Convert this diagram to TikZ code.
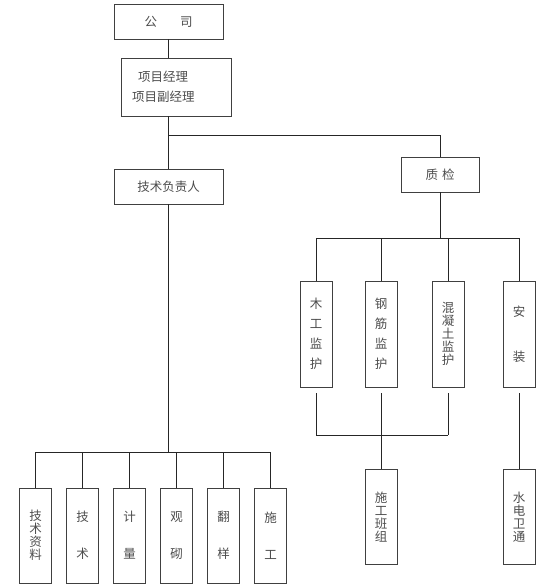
\documentclass[tikz,border=0pt]{standalone}
\usepackage{fontspec}
\newfontfamily\cjk{Noto Sans CJK SC}
\usetikzlibrary{positioning}

\begin{document}
\begin{tikzpicture}[
  x=1pt, y=-1pt,
  box/.style={draw=black!75, line width=0.9pt, inner sep=0pt, align=center,
              text=black!70, font=\cjk\fontsize{12.5}{13}\selectfont},
  hbox/.style={box, minimum width=109pt, minimum height=35pt},
  vbox/.style={box, minimum width=32pt, minimum height=95pt},
  tbox/.style={box, minimum width=32pt, minimum height=106pt},
  link/.style={draw=black!85, line width=0.7pt},
  gapline/.style={link, shorten <=6pt},
]
\useasboundingbox (0,0) rectangle (555,586);

% top of the tree
\node[hbox] (company) at (168.5, 21.5) {公\hspace{23pt}司};
\node[box, minimum width=110pt, minimum height=58pt, align=left, text width=88pt,
      font=\cjk\fontsize{12.5}{20}\selectfont] (manager) at (176, 87)
  {\hspace*{6pt}项目经理\\项目副经理};
\node[hbox] (tech) at (168.5, 186.5) {技术负责人};
\node[box, minimum width=78pt, minimum height=35pt] (qc) at (440, 174.5)
  {质\hspace{4pt}检};

% technical staff
\node[vbox] (docs)   at (35.5, 535.5)  {技\\术\\资\\料};
\node[vbox] (skill)  at (82.5, 535.5)  {技\\[24pt]术};
\node[vbox] (meas)   at (129.5, 535.5) {计\\[24pt]量};
\node[vbox] (brick)  at (176.5, 535.5) {观\\[24pt]砌};
\node[vbox] (layout) at (223.5, 535.5) {翻\\[24pt]样};
\node[vbox] (build)  at (270.5, 535.5) {施\\[24pt]工};

% quality supervisors
\node[tbox] (wood)     at (316, 334) {木\\[7pt]工\\[7pt]监\\[7pt]护};
\node[tbox] (steel)    at (381, 334) {钢\\[7pt]筋\\[7pt]监\\[7pt]护};
\node[tbox] (concrete) at (448, 334) {混\\凝\\土\\监\\护};
\node[tbox] (install)  at (519, 334) {安\\[32pt]装};

\node[vbox] (crew)    at (381, 517) {施\\工\\班\\组};
\node[vbox] (utility) at (519, 517) {水\\电\\卫\\通};

% bus levels
\coordinate (split) at (168.5, 135);
\coordinate (busT)  at (0, 452);
\coordinate (busQ)  at (0, 238);
\coordinate (busB)  at (0, 435);

\draw[link] (company.south) -- (company.south |- manager.north);
\draw[link] (manager.south -| split) -- (tech.north);
\draw[link] (split) -| (qc.north);

\draw[link] (tech.south) -- (tech.south |- busT);
\draw[link] (docs.north |- busT) -- (build.north |- busT);
\foreach \n in {docs,skill,meas,brick,layout,build}
  \draw[link] (\n.north) -- (\n.north |- busT);

\draw[link] (qc.south) -- (qc.south |- busQ);
\draw[link] (wood.north |- busQ) -- (install.north |- busQ);
\foreach \n in {wood,steel,concrete,install}
  \draw[link] (\n.north) -- (\n.north |- busQ);

\foreach \n in {wood,steel,concrete}
  \draw[gapline] (\n.south) -- (\n.south |- busB);
\draw[link] (wood.south |- busB) -- (concrete.south |- busB);
\draw[link] (crew.north |- busB) -- (crew.north);
\draw[gapline] (install.south) -- (utility.north);
\end{tikzpicture}
\end{document}
